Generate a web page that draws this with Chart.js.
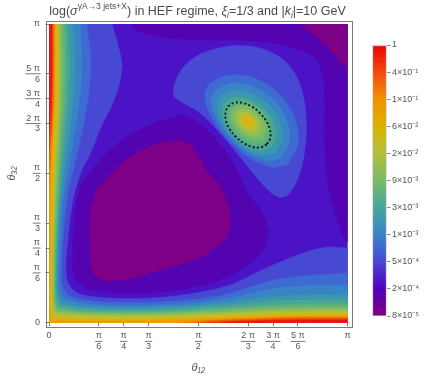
<!DOCTYPE html>
<html><head><meta charset="utf-8">
<script src="https://cdn.jsdelivr.net/npm/chart.js@4/dist/chart.umd.min.js"></script>
<style>
html,body{margin:0;padding:0;background:#fff;}
#wrap{position:relative;width:438px;height:379px;overflow:hidden;}
#main{position:absolute;left:0;top:0;}
#bar{position:absolute;left:360px;top:0;}
</style></head><body>
<div id="wrap"><canvas id="main" width="438" height="379"></canvas><canvas id="bar" width="78" height="379"></canvas></div>
<script>
// ---------- axis ticks (degrees; 180 = pi) ----------
const tickValues = [0, 30, 45, 60, 90, 120, 135, 150, 180];
const tickLabels = ["0", ["π","6"], ["π","4"], ["π","3"], ["π","2"], ["2 π","3"], ["3 π","4"], ["5 π","6"], "π"];
// ---------- colour bar ----------
const cbTicks = [0,1,2,3,4,5,6,7,8,9,10];
const cbLabels = ["1","4×10⁻¹","1×10⁻¹","6×10⁻²","2×10⁻²","9×10⁻³","3×10⁻³","1×10⁻³","5×10⁻⁴","2×10⁻⁴","8×10⁻⁵"];
const cbStops = ['#ee0000','#f04a10','#f09200','#dcb200','#b2c03a','#7abb66','#45a79e','#3a83c8','#4747d3','#5000bf','#800080'];
// contour band colours, band 0 = highest value (red) ... band 19 = lowest (purple)
const bandColors = ['#e9121b','#ed3b12','#ef5f0b','#f07f04','#ee9a02','#e6ad06','#d7b712','#c3bd2a','#acc03f','#94bf52',
                    '#79ba65','#5eb27d','#48a693','#3b97ae','#3884c5','#3d6bd2','#4849d2','#4b12c6','#5304b0','#7d0088'];
// ---------- contour regions [theta12, theta32] in degrees ----------
const bgRegion = [[-10,-10],[190,-10],[190,190],[-10,190]];
const lowTopRight = [[47,195],[48.5,182],[53,176.4],[60.9,173.4],[72.9,171.6],[91.0,170.6],[115.1,170.2],[136.2,168.2],[151.3,164.3],[160.3,159.5],[164.5,151.1],[166.3,134.2],[166.3,110.1],[167.5,89.0],[171.1,70.9],[175.4,57.1],[180,48.6],[190,45],[195,45],[195,195]];
const minTopRight = [[150,190],[151.3,180],[158.5,174.6],[166.3,167.3],[172.3,161.3],[180,153.5],[190,148],[195,148],[195,195]];
const lowBlob = [[80,125.5],[90,120.5],[100,111],[108,101],[114,90],[120,77.5],[128,67],[132,55.9],[129.6,45.0],[121.1,36.0],[106.1,26.9],[88.0,21.5],[66.9,18.5],[48.8,17.9],[30.7,19.1],[19.9,22.1],[15.0,28.7],[14.3,43.8],[15.2,61.9],[17.5,77.0],[23.5,89.0],[33.7,101.1],[48.8,113.1],[66.9,121.8]];
const minBlob = [[68.1,108.9],[82.0,108.9],[89.8,101.1],[95.8,90.8],[104.2,80.0],[109.1,66.1],[107.9,52.8],[98.2,43.8],[88.0,37.8],[66.9,31.8],[47.6,26.3],[31.9,25.7],[25.9,31.8],[24.7,49.8],[25.3,67.9],[28.9,80.0],[36.8,89.0],[45.8,98.0],[57.9,105.3]];
const edge16 = [[-10,190],[36.5,190],[38.0,180],[41.6,167.3],[44.0,155.3],[42.2,143.2],[38.0,131.2],[31.9,119.1],[25.9,104.1],[18.7,89.0],[13.9,70.9],[11.4,49.8],[10.2,34.8],[11.4,24.5],[16.3,18.5],[27.7,15.5],[48.8,14.6],[69.9,15.5],[88.0,17.9],[109.1,22.7],[127.1,31.2],[145.2,39.0],[158.5,43.8],[169.3,45.6],[180,45.0],[190,44.5],[190,-10],[-10,-10]];
const edge15 = [[-10,190],[22.9,190],[22.9,180],[25.3,155.3],[22.9,131.2],[17.5,104.1],[10.8,73.9],[8.1,43.8],[7.5,30],[8.8,21],[13,16],[30.7,12.7],[66.9,12.7],[103,16.3],[139.2,26.5],[180,30.0],[190,30.2],[190,-10],[-10,-10]];
const edge14 = [[-10,190],[18.7,190],[18.7,180],[19.9,155.3],[18.1,131.2],[13.9,104.1],[8.7,73.9],[6.6,43.8],[6.0,28],[7.2,18.5],[11,14],[30.7,10.8],[66.9,10.8],[103,13.9],[139.2,21.1],[180,22.5],[190,22.6],[190,-10],[-10,-10]];
const edge13 = [[-10,190],[14.5,190],[14.5,180],[15.7,155.3],[14.2,131.2],[11.1,104.1],[7.2,73.9],[5.4,43.8],[4.9,27],[5.9,16.5],[9,12],[30.7,9.3],[66.9,9.3],[103,11.8],[139.2,16.3],[180,17.2],[190,17.3],[190,-10],[-10,-10]];
const edge12 = [[-10,190],[11.4,190],[11.4,180],[12.4,155.3],[11.4,131.2],[9.0,104.1],[6.3,73.9],[4.8,43.8],[4.3,26],[5.0,15],[8,10.5],[30.7,8.1],[66.9,8.1],[103,10.2],[139.2,13.3],[180,13.8],[190,13.9],[190,-10],[-10,-10]];
const edge11 = [[-10,190],[9.6,190],[9.6,180],[10.2,155.3],[9.6,131.2],[7.5,104.1],[5.4,73.9],[4.2,43.8],[3.7,25],[4.3,13],[7,9],[30.7,6.9],[66.9,6.9],[103,8.7],[139.2,10.8],[180,11.3],[190,11.4],[190,-10],[-10,-10]];
const edge10 = [[-10,190],[8.1,190],[8.1,180],[8.4,155.3],[8.1,131.2],[6.3,104.1],[4.7,73.9],[3.6,43.8],[3.2,24],[3.7,11.5],[6,7.8],[30.7,6.0],[66.9,6.0],[103,7.5],[139.2,9.2],[180,9.5],[190,9.6],[190,-10],[-10,-10]];
const edge9 = [[-10,190],[6.9,190],[6.9,180],[7.2,155.3],[6.9,131.2],[5.4,104.1],[3.9,73.9],[3.0,43.8],[2.7,23],[3.1,10],[5,6.6],[30.7,5.1],[66.9,5.1],[103,6.3],[139.2,7.8],[180,8.1],[190,8.2],[190,-10],[-10,-10]];
const edge8 = [[-10,190],[6.0,190],[6.0,180],[6.2,155.3],[6.0,131.2],[4.5,104.1],[3.3,73.9],[2.4,43.8],[2.2,22],[2.6,8.5],[4.2,5.5],[30.7,4.2],[66.9,4.2],[103,5.4],[139.2,6.7],[180,7.0],[190,7.1],[190,-10],[-10,-10]];
const edge7 = [[-10,190],[5.3,190],[5.3,180],[5.4,155.3],[5.1,131.2],[3.8,104.1],[2.7,73.9],[1.9,43.8],[1.8,21],[2.1,7],[3.4,4.4],[30.7,3.3],[66.9,3.4],[103,4.6],[139.2,5.9],[180,6.1],[190,6.2],[190,-10],[-10,-10]];
const edge6 = [[-10,190],[4.6,190],[4.6,180],[4.7,155.3],[4.4,131.2],[3.1,104.1],[2.2,73.9],[1.5,43.8],[1.4,20],[1.7,5.5],[2.7,3.4],[30.7,2.6],[66.9,2.7],[103,3.8],[139.2,5.1],[180,5.3],[190,5.4],[190,-10],[-10,-10]];
const edge5 = [[-10,190],[4.1,190],[4.1,180],[4.2,155.3],[3.8,131.2],[2.5,104.1],[1.7,73.9],[1.1,43.8],[1.0,19],[1.3,4],[2.2,2.4],[30.7,1.8],[66.9,1.9],[103,3.1],[139.2,4.4],[180,4.6],[190,4.7],[190,-10],[-10,-10]];
const edge4 = [[-10,190],[3.6,190],[3.6,180],[3.6,155.3],[3.3,131.2],[1.9,104.1],[1.1,73.9],[0.6,43.8],[0.5,18],[0.7,2.2],[1.5,1.2],[30.7,0.9],[66.9,1.3],[103,2.5],[139.2,3.8],[180,4.0],[190,4.0],[190,-10],[-10,-10]];
const edge3Left = [[-10,190],[3.1,190],[3.1,180],[3.1,155.3],[2.7,131.2],[1.3,104.1],[0,82],[-3,72],[-10,70]];
const edge3Bottom = [[70,-10],[70,-3],[79,0],[103,1.8],[139.2,3.2],[180,3.4],[190,3.4],[190,-10]];
const edge2Left = [[-10,190],[2.6,190],[2.6,180],[2.6,155.3],[2.2,131.2],[0.7,104.1],[-1,90],[-10,85]];
const edge2Bottom = [[80,-10],[80,-3],[88,0],[103,1.2],[139.2,2.6],[180,2.8],[190,2.8],[190,-10]];
const edge1Left = [[-10,190],[2.1,190],[2.1,180],[2.1,155.3],[1.7,131.2],[0.3,106],[-1,100],[-10,98]];
const edge1Bottom = [[88,-10],[88,-3],[94,0],[103,0.7],[139.2,2.0],[180,2.2],[190,2.2],[190,-10]];
const edge0Left = [[-10,190],[1.6,190],[1.6,180],[1.6,155.3],[1.2,131.2],[0.2,117],[-1,112],[-10,110]];
const edge0Bottom = [[98,-10],[98,-3],[104,0],[115,0.7],[139.2,1.4],[180,1.6],[190,1.6],[190,-10]];
const lobe16 = [[74.7,140.2],[78.9,151.1],[88.0,160.1],[100.0,165.0],[115.1,167.0],[130.2,164.5],[143.4,156.5],[151.3,143.2],[154.9,125.2],[154.3,105.3],[150.7,89.0],[144.6,77.6],[138.6,75.7],[130.8,81.2],[118.1,96.2],[104.2,113.1],[91.0,126.4],[80.1,133.0],[75.3,136.0]];
const lobe15 = [[143.76,95.24],[149.93,107.81],[148.06,123.4],[138.64,137.84],[124.2,147.26],[108.61,149.13],[96.04,142.96],[94.02,134.54],[98.93,121.99],[109.46,108.66],[122.79,98.13],[135.34,93.22]];
const lobe14 = [[139.92,99.08],[144.91,109.43],[143.19,122.37],[135.24,134.44],[123.17,142.39],[110.23,144.11],[99.88,139.12],[97.87,131.75],[101.78,121.2],[110.53,109.73],[121.8,101.0],[132.55,97.07]];
const lobe13 = [[136.51,102.49],[140.46,110.9],[138.91,121.49],[132.25,131.45],[122.29,138.11],[111.7,139.66],[103.29,135.71],[101.26,129.22],[104.21,120.03],[111.38,110.58],[120.83,103.41],[130.02,100.46]];
const lobe12 = [[133.53,105.47],[136.6,112.2],[135.21,120.77],[129.7,128.9],[121.57,134.41],[113.0,135.8],[106.27,132.73],[104.26,127.06],[106.44,119.28],[112.23,111.43],[120.08,105.64],[127.86,103.46]];
const lobe11 = [[131.4,108.2],[133.75,117.3],[128.0,127.8],[117.5,133.56],[108.4,131.2],[107.1,123.16],[113.3,113.1],[123.36,106.9]];
const lobe10 = [[129.06,110.84],[130.9,118.04],[126.29,126.39],[117.94,131.0],[110.74,129.16],[109.65,122.71],[114.57,114.67],[122.61,109.75]];
const lobe9 = [[126.93,113.27],[128.33,118.79],[124.8,125.2],[118.39,128.73],[112.87,127.33],[111.98,122.32],[115.73,116.13],[121.92,112.38]];
const lobe8 = [[125.23,115.27],[126.23,119.39],[123.52,124.22],[118.69,126.93],[114.57,125.93],[113.87,122.11],[116.7,117.4],[121.41,114.57]];
const lobe7 = [[123.73,117.07],[124.48,120.06],[122.54,123.54],[119.06,125.48],[116.07,124.73],[115.54,121.96],[117.56,118.56],[120.96,116.54]];
const lobe6 = [[122.46,118.64],[122.98,120.66],[121.69,122.99],[119.36,124.28],[117.34,123.76],[116.94,121.86],[118.28,119.58],[120.56,118.25]];
const lobe5 = [[121.26,120.14],[121.55,121.23],[120.88,122.48],[119.63,123.15],[118.54,122.86],[118.31,121.83],[119.01,120.61],[120.23,119.83]];
const dottedContour = [[131.4,107.6],[133.3,111.2],[133.2,116.1],[131.0,121.4],[127.1,126.3],[122.2,130.2],[116.9,132.4],[112.0,132.5],[108.4,130.6],[106.5,127.0],[106.6,122.1],[108.8,116.8],[112.7,111.9],[117.6,108.0],[122.9,105.8],[127.8,105.7],[131.4,107.6]];

// drawing order: [region, band]
const layers = [
  [bgRegion,17],[lowTopRight,18],[minTopRight,19],[lowBlob,18],[minBlob,19],
  [edge16,16],[lobe16,16],[edge15,15],[lobe15,15],[edge14,14],[lobe14,14],[edge13,13],[lobe13,13],
  [edge12,12],[lobe12,12],[edge11,11],[lobe11,11],[edge10,10],[lobe10,10],[edge9,9],[lobe9,9],
  [edge8,8],[lobe8,8],[edge7,7],[lobe7,7],[edge6,6],[lobe6,6],[edge5,5],[lobe5,5],[edge4,4],
  [edge3Left,3],[edge3Bottom,3],[edge2Left,2],[edge2Bottom,2],[edge1Left,1],[edge1Bottom,1],[edge0Left,0],[edge0Bottom,0]
];

const FONT = '"Liberation Sans", Arial, sans-serif';
Chart.defaults.font.family = FONT;
const LABEL = '#555';
const FRAME = '#7a7a7a';

const datasets = layers.map(([pts, band], i) => ({
  data: pts.map(p => ({x: p[0], y: p[1]})),
  showLine: true, fill: 'shape', tension: 0.35,
  backgroundColor: bandColors[band], borderColor: bandColors[band], borderWidth: 0.5,
  pointRadius: 0, pointHoverRadius: 0, order: layers.length - i + 1
}));
datasets.push({
  data: dottedContour.map(p => ({x: p[0], y: p[1]})),
  showLine: true, fill: false, tension: 0.4, borderColor: '#111', borderWidth: 1.8,
  borderDash: [2, 2.3], borderCapStyle: 'butt', pointRadius: 0, order: 0
});

const TICK_LEN = 3.5, LINE_H = 10.8;
const fracPlugin = {
  id: 'frac',
  afterDraw(chart) {
    const ctx = chart.ctx, xs = chart.scales.x, ys = chart.scales.y;
    ctx.save();
    ctx.font = '9px ' + FONT;
    ctx.strokeStyle = LABEL; ctx.lineWidth = 0.8;
    tickValues.forEach((v, i) => {
      const lab = tickLabels[i];
      if (!Array.isArray(lab)) return;
      const w = Math.max(...lab.map(s => ctx.measureText(s).width)) + 1;
      const px = xs.getPixelForValue(v);
      const by = xs.top + TICK_LEN + xs.options.ticks.padding + LINE_H;
      ctx.beginPath(); ctx.moveTo(px - w / 2, by); ctx.lineTo(px + w / 2, by); ctx.stroke();
      const py = ys.getPixelForValue(v);
      const xr = ys.right - TICK_LEN - ys.options.ticks.padding;
      ctx.beginPath(); ctx.moveTo(xr - w, py); ctx.lineTo(xr + 0.5, py); ctx.stroke();
    });
    ctx.restore();
  }
};
const framePlugin = {
  id: 'frame',
  afterDatasetsDraw(chart) {
    const a = chart.chartArea, ctx = chart.ctx;
    ctx.save(); ctx.strokeStyle = FRAME; ctx.lineWidth = 1;
    ctx.strokeRect(Math.round(a.left - TICK_LEN) + 0.5, Math.round(a.top - TICK_LEN) + 0.5,
                   Math.round(a.right - a.left + 2 * TICK_LEN), Math.round(a.bottom - a.top + 2 * TICK_LEN));
    ctx.restore();
  }
};
const titleParts = [['log(', '', 1, 0], ['σ', 'italic ', 1, 0], ['γA→3 jets+X', '', 0.68, -5.5],
  [') in HEF regime, ', '', 1, 0], ['ξ', 'italic ', 1, 0], ['i', 'italic ', 0.68, 3],
  ['=1/3 and |', '', 1, 0], ['k', 'italic ', 1, 0], ['i', 'italic ', 0.68, 3], ['|=10 GeV', '', 1, 0]];
const titlePlugin = {
  id: 'richTitle',
  afterDraw(chart) {
    const ctx = chart.ctx, size = 12.5;
    ctx.save(); ctx.fillStyle = '#4a4a4a'; ctx.textBaseline = 'alphabetic';
    const widths = titleParts.map(([t, st, sc]) => { ctx.font = st + (size * sc) + 'px ' + FONT; return ctx.measureText(t).width; });
    const total = widths.reduce((a, b) => a + b, 0);
    let x = 197.5 - total / 2;
    titleParts.forEach(([t, st, sc, dy], i) => {
      ctx.font = st + (size * sc) + 'px ' + FONT;
      ctx.fillText(t, x, 14.5 + dy);
      x += widths[i];
    });
    ctx.restore();
  }
};

function axisCommon(isX) {
  return {
    type: 'linear', min: 0, max: 180,
    afterBuildTicks: s => { s.ticks = tickValues.map(v => ({value: v})); },
    grid: {drawOnChartArea: false, drawTicks: true, tickLength: TICK_LEN, color: FRAME, lineWidth: 1},
    border: {display: false},
    ticks: {autoSkip: false, maxRotation: 0, minRotation: 0, padding: isX ? 4.4 : 5.5, color: LABEL,
            font: {size: 9, lineHeight: 1.2}, callback: (v, i) => tickLabels[i]},
    title: {display: true, text: isX ? 'θ₁₂' : 'θ₃₂', color: LABEL, font: {size: 11, style: 'italic'},
            padding: isX ? {top: 4, bottom: 4} : {top: 5, bottom: 5}}
  };
}
const xAxis = axisCommon(true); xAxis.afterFit = s => { s.height = 56.3; };
const yAxis = axisCommon(false); yAxis.afterFit = s => { s.width = 49; };

new Chart(document.getElementById('main'), {
  type: 'scatter',
  data: {datasets},
  options: {
    responsive: false, animation: false, events: [],
    layout: {padding: {top: 24, right: 90.3, left: 0, bottom: 0}},
    plugins: {legend: {display: false}, tooltip: {enabled: false}, title: {display: false}},
    elements: {line: {capBezierPoints: false}, point: {radius: 0}},
    scales: {x: xAxis, y: yAxis}
  },
  plugins: [fracPlugin, framePlugin, titlePlugin]
});

new Chart(document.getElementById('bar'), {
  type: 'bar',
  data: {labels: [''], datasets: [{
    data: [[cbTicks[0], cbTicks[cbTicks.length - 1]]],
    backgroundColor: c => {
      const ch = c.chart; if (!ch.chartArea) return cbStops[0];
      const ys = ch.scales.y;
      const g = ch.ctx.createLinearGradient(0, ys.getPixelForValue(0), 0, ys.getPixelForValue(10));
      cbStops.forEach((col, i) => g.addColorStop(i / (cbStops.length - 1), col));
      return g;
    },
    borderColor: '#a0a0a0', borderWidth: 1, borderSkipped: false, barPercentage: 1, categoryPercentage: 1
  }]},
  options: {
    responsive: false, animation: false, events: [],
    layout: {padding: {left: 12.5, top: 45, bottom: 63, right: 0}},
    plugins: {legend: {display: false}, tooltip: {enabled: false}},
    scales: {
      x: {display: false},
      y: {position: 'right', min: 0, max: 10, reverse: true,
          afterBuildTicks: s => { s.ticks = cbTicks.map(v => ({value: v})); },
          afterFit: s => { s.width = 51.5; },
          grid: {drawOnChartArea: false, drawTicks: true, tickLength: 4, color: '#8a8a8a'},
          border: {display: false},
          ticks: {padding: 1.5, color: LABEL, font: {size: 9}, callback: (v, i) => cbLabels[i]}}
    }
  }
});
</script></body></html>
